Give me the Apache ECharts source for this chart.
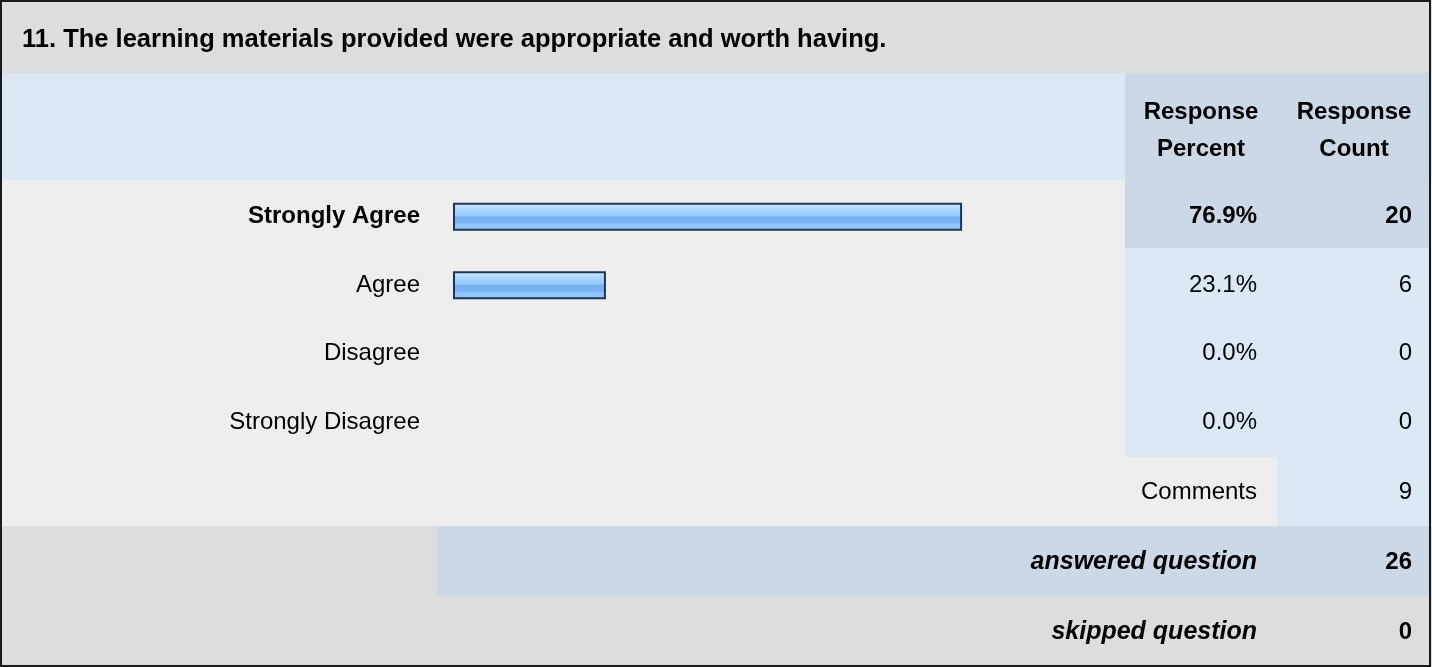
<!DOCTYPE html>
<html>
<head>
<meta charset="utf-8">
<script src="https://cdn.jsdelivr.net/npm/echarts@6/dist/echarts.min.js"></script>
<style>
html,body{margin:0;padding:0;background:#fff;}
#chart{width:1432px;height:667px;}
</style>
</head>
<body>
<div id="chart"></div>
<script>
// ---- data ----
const title = "11. The learning materials provided were appropriate and worth having.";
const categories = ["Strongly Agree", "Agree", "Disagree", "Strongly Disagree"];
const percents = [76.9, 23.1, 0.0, 0.0];
const counts = [20, 6, 0, 0];
const headerPercent = ["Response", "Percent"];
const headerCount = ["Response", "Count"];
const commentsLabel = "Comments";
const commentsCount = 9;
const answeredLabel = "answered question";
const answeredCount = 26;
const skippedLabel = "skipped question";
const skippedCount = 0;

// ---- layout ----
const W = 1432, H = 667;
const FONT = 'Arial, "Liberation Sans", sans-serif';
const FS = 24;
const titleBottom = 73, headerBottom = 180;
const rowsBottom = 457;
const gridTop = 182.5, bandH = 68.5;
const nRows = categories.length;
const commentsBottom = 526, answeredBottom = 596;
const pctLeft = 1125, cntLeft = 1277, right = 1430;
const pctTextX = 1257, cntTextX = 1412;
const barLeft = 453, barWidth100 = 662;

const chart = echarts.init(document.getElementById('chart'), null, {renderer: 'canvas'});

const g = [];
function rect(x, y, w, h, fill) {
  g.push({type: 'rect', z: -10, shape: {x: x, y: y, width: w, height: h}, style: {fill: fill}, silent: true});
}
function text(str, x, y, align, font) {
  g.push({type: 'text', z: 10, x: x, y: y, style: {text: String(str), align: align, verticalAlign: 'middle', font: font, fill: '#000'}, silent: true});
}
const normal = FS + 'px ' + FONT;
const bold = 'bold ' + FS + 'px ' + FONT;
const boldItalic = 'italic bold 25px ' + FONT;

// backgrounds
rect(0, 0, W, H, '#eeeeee');
rect(0, 0, W, titleBottom, '#dddddd');
rect(0, titleBottom, W, headerBottom - titleBottom, '#dde8f5');
rect(pctLeft, titleBottom, right - pctLeft, 248 - titleBottom, '#cdd8e6');
rect(pctLeft, 248, right - pctLeft, rowsBottom - 248, '#dde8f5');
rect(cntLeft, rowsBottom, right - cntLeft, commentsBottom - rowsBottom, '#dde8f5');
rect(0, commentsBottom, W, H - commentsBottom, '#dddddd');
rect(437, commentsBottom, right - 437, answeredBottom - commentsBottom, '#cdd8e6');

// title
text(title, 22, 40, 'left', 'bold 25.5px ' + FONT);

// header
text(headerPercent[0], 1201, 112, 'center', bold);
text(headerPercent[1], 1201, 149, 'center', bold);
text(headerCount[0], 1354, 112, 'center', bold);
text(headerCount[1], 1354, 149, 'center', bold);

// rows
const maxPct = Math.max.apply(null, percents);
for (let i = 0; i < nRows; i++) {
  const y = gridTop + bandH * (i + 0.5);
  const f = percents[i] === maxPct ? bold : normal;
  text(percents[i].toFixed(1) + '%', pctTextX, y, 'right', f);
  text(counts[i], cntTextX, y, 'right', f);
}
text(commentsLabel, pctTextX, 492, 'right', normal);
text(commentsCount, cntTextX, 492, 'right', normal);
text(answeredLabel, pctTextX, 562, 'right', boldItalic);
text(answeredCount, cntTextX, 562, 'right', bold);
text(skippedLabel, pctTextX, 632, 'right', boldItalic);
text(skippedCount, cntTextX, 632, 'right', bold);

// outer border
g.push({type: 'rect', z: 20, shape: {x: 1, y: 1, width: W - 3, height: H - 2}, style: {fill: 'none', stroke: '#1a1a1a', lineWidth: 2}, silent: true});

const barGradient = new echarts.graphic.LinearGradient(0, 0, 0, 1, [
  {offset: 0, color: '#d2eaff'},
  {offset: 0.12, color: '#bfe0ff'},
  {offset: 0.25, color: '#a8d4ff'},
  {offset: 0.45, color: '#98cbff'},
  {offset: 0.5, color: '#7ab2f0'},
  {offset: 0.7, color: '#78b2f2'},
  {offset: 0.78, color: '#92c6ff'},
  {offset: 1, color: '#8ec5ff'}
]);

const barData = percents.map(function (v) {
  return v > 0 ? v : {value: v, itemStyle: {borderWidth: 0, opacity: 0}};
});

chart.setOption({
  animation: false,
  backgroundColor: '#eeeeee',
  graphic: g,
  grid: {left: barLeft, top: gridTop, width: barWidth100, height: bandH * nRows, containLabel: false},
  xAxis: {type: 'value', min: 0, max: 100, show: false},
  yAxis: {
    type: 'category', inverse: true, data: categories,
    axisLine: {show: false}, axisTick: {show: false}, splitLine: {show: false},
    axisLabel: {
      margin: 33, fontSize: FS, fontFamily: FONT, color: '#000',
      formatter: function (v, idx) { return percents[idx] === maxPct ? '{b|' + v + '}' : v; },
      rich: {b: {fontWeight: 'bold', fontSize: FS, fontFamily: FONT, color: '#000'}}
    }
  },
  series: [{
    type: 'bar', z: 5, data: barData, barWidth: 28,
    itemStyle: {color: barGradient, borderColor: '#1e3556', borderWidth: 2},
    emphasis: {disabled: true}, silent: true
  }]
});
</script>
</body>
</html>
